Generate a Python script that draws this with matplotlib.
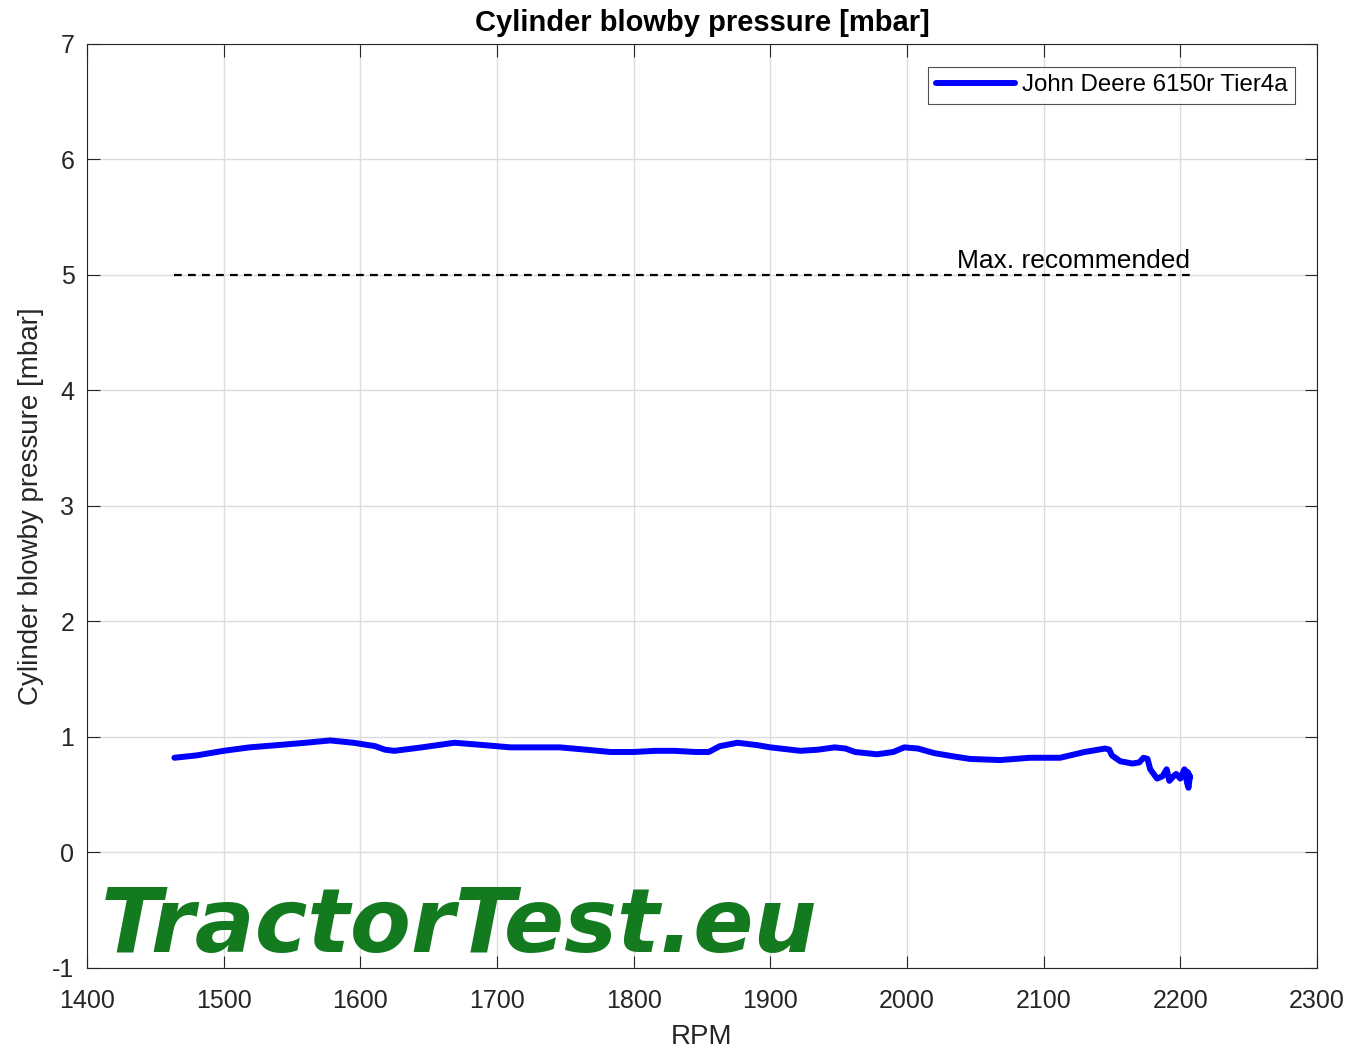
import matplotlib
matplotlib.use("Agg")
import matplotlib.pyplot as plt

plt.rcParams["font.family"] = ["Liberation Sans", "DejaVu Sans"]
plt.rcParams["axes.unicode_minus"] = False

rpm = [1464, 1480, 1500, 1519, 1540, 1560, 1578, 1595, 1611, 1618, 1625, 1645,
       1669, 1690, 1710, 1730, 1746, 1765, 1783, 1800, 1816, 1830, 1845, 1855,
       1863, 1876, 1890, 1900, 1922, 1935, 1947, 1955, 1962, 1978, 1990, 1998,
       2008, 2020, 2035, 2046, 2068, 2090, 2112, 2130, 2145, 2148, 2150, 2156,
       2165, 2170, 2173, 2176, 2178, 2183, 2187, 2190, 2192, 2195, 2197, 2200,
       2203, 2205, 2206, 2207, 2205, 2207]
pressure = [0.82, 0.84, 0.88, 0.91, 0.93, 0.95, 0.97, 0.95, 0.92, 0.89, 0.88, 0.91,
            0.95, 0.93, 0.91, 0.91, 0.91, 0.89, 0.87, 0.87, 0.88, 0.88, 0.87, 0.87,
            0.92, 0.95, 0.93, 0.91, 0.88, 0.89, 0.91, 0.90, 0.87, 0.85, 0.87, 0.91,
            0.90, 0.86, 0.83, 0.81, 0.80, 0.82, 0.82, 0.87, 0.90, 0.89, 0.84, 0.79,
            0.77, 0.78, 0.82, 0.81, 0.72, 0.64, 0.66, 0.72, 0.62, 0.66, 0.68, 0.64,
            0.72, 0.60, 0.56, 0.66, 0.70, 0.65]

limit_rpm = [1464, 2207]
limit_value = 5.0

fig = plt.figure(figsize=(13.52, 10.55), dpi=100)
ax = fig.add_axes([0.0643, 0.0825, 0.9098, 0.8758])

ax.plot(rpm, pressure, color="blue", linewidth=4.3, solid_joinstyle="round",
        solid_capstyle="round", label="John Deere 6150r Tier4a", zorder=3)
ax.plot(limit_rpm, [limit_value, limit_value], color="black", linestyle="--",
        linewidth=1.6, dashes=(3.5, 2.8), zorder=3)
ax.text(limit_rpm[1], limit_value + 0.02, "Max. recommended", ha="right", va="bottom",
        fontsize=19)

ax.set_xlim(1400, 2300)
ax.set_ylim(-1, 7)
ax.set_xticks(range(1400, 2301, 100))
ax.set_yticks(range(-1, 8))
ax.grid(True, color="#dcdcdc", linewidth=1)
ax.set_axisbelow(True)
ax.tick_params(direction="in", top=True, right=True, labelsize=18, length=9, width=0.8,
               colors="#262626", labelcolor="#262626")
ax.tick_params(axis="x", pad=15)
ax.tick_params(axis="y", pad=9)
for s in ax.spines.values():
    s.set_color("#262626")

ax.set_title("Cylinder blowby pressure [mbar]", fontsize=21, fontweight="bold", pad=9)
ax.set_xlabel("RPM", fontsize=20, color="#262626", labelpad=8)
ax.set_ylabel("Cylinder blowby pressure [mbar]", fontsize=20, color="#262626", labelpad=6)

leg = ax.legend(loc="upper right", fontsize=17.3, frameon=True, fancybox=False,
                edgecolor="#262626", handlelength=3.3, handletextpad=0.3,
                borderpad=0.3, borderaxespad=0.0, bbox_to_anchor=(0.982, 0.975))
leg.get_frame().set_linewidth(0.8)

ax.text(0.011, 0.017, "TractorTest.eu", transform=ax.transAxes, fontsize=64,
        family="DejaVu Sans", fontweight="bold", fontstyle="oblique", color="#137a1f",
        ha="left", va="baseline", zorder=2)

fig.savefig("out.png", dpi=100)
